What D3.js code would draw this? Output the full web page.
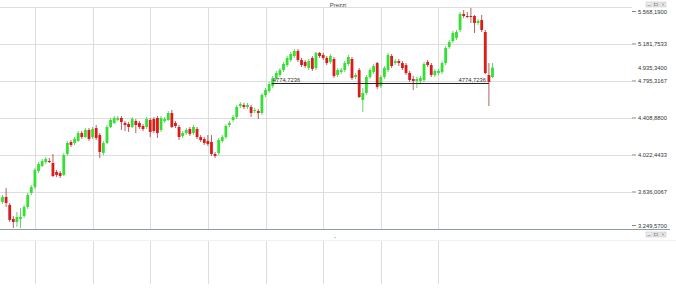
<!DOCTYPE html>
<html lang="it">
<head>
  <meta charset="UTF-8">
  <script src="https://d3js.org/d3.v7.min.js"></script>
  <style>
    body { margin: 0; background: #fff; }
    text { font-family: "Liberation Sans", Arial, sans-serif; }
  </style>
  <title>Prezzi</title>
</head>
<body>
  <svg id="chart" width="676" height="294"></svg>
  <script>
    // daily OHLC
    var open = [3532,3584,3500,3354,3323,3354,3386,3479,3626,3688,
      3855,3908,3949,3960,3939,3845,3835,3814,4033,4158,
      4148,4169,4252,4210,4284,4210,4304,4231,4043,4148,
      4315,4357,4388,4409,4357,4346,4315,4378,4357,4325,
      4315,4388,4398,4409,4284,4378,4388,4461,4357,4315,
      4221,4252,4294,4252,4294,4210,4190,4169,4158,4033,
      4043,4169,4210,4336,4388,4419,4534,4545,4524,4524,
      4482,4482,4461,4649,4691,4743,4827,4858,4910,4962,
      5015,5056,5109,5015,4994,4931,5036,4931,5088,5067,
      5036,4994,5025,4858,4889,4910,4973,5025,4837,4910,
      4597,4670,4837,4889,4983,4743,4837,4910,5056,4983,
      5004,4983,4962,4879,4816,4795,4795,4806,4994,4962,
      4858,4879,4889,4983,5150,5213,5245,5328,5495,5474,
      5474,5474,5401,5432,5307,4858,4837];
    var high = [3605,3678,3521,3386,3427,3469,3500,3626,3709,3887,
      3949,3981,4002,3991,4033,3866,3855,4043,4169,4179,
      4210,4273,4273,4304,4304,4315,4336,4252,4169,4336,
      4409,4430,4430,4430,4378,4367,4419,4398,4378,4346,
      4419,4409,4419,4430,4430,4419,4482,4492,4378,4336,
      4273,4304,4315,4336,4315,4231,4210,4231,4231,4054,
      4200,4231,4346,4378,4440,4545,4576,4566,4566,4545,
      4513,4503,4670,4722,4785,4848,4900,4931,4994,5056,
      5098,5130,5130,5036,5015,5025,5056,5098,5098,5088,
      5056,5077,5046,4931,4931,5004,5067,5046,4879,4931,
      4722,4858,4931,4973,4994,4858,4952,5088,5077,5025,
      5025,5004,4983,4900,4848,4837,4848,4994,5015,4983,
      4921,4921,5004,5161,5224,5318,5328,5516,5537,5516,
      5558,5485,5443,5485,5328,4983,4983];
    var low = [3511,3479,3323,3260,3271,3260,3365,3458,3605,3667,
      3835,3897,3928,3939,3793,3793,3782,3803,4012,4106,
      4127,4158,4190,4200,4169,4190,4179,3991,4022,4137,
      4304,4346,4378,4284,4273,4263,4304,4252,4294,4273,
      4294,4210,4252,4200,4263,4357,4378,4304,4304,4179,
      4200,4231,4221,4231,4190,4158,4127,4117,4012,3991,
      4022,4148,4190,4315,4367,4398,4513,4503,4503,4419,
      4461,4398,4440,4628,4670,4722,4806,4837,4889,4942,
      4994,5036,4994,4942,4931,4910,4900,4910,5036,5015,
      4962,4973,4827,4837,4868,4889,4952,4806,4816,4618,
      4472,4649,4816,4868,4712,4722,4816,4889,4931,4962,
      4952,4910,4858,4785,4701,4722,4774,4785,4942,4837,
      4837,4858,4868,4962,5130,5192,5224,5307,5453,5453,
      5401,5297,5380,5307,4868,4534,4827];
    var close = [3584,3521,3344,3323,3375,3375,3479,3605,3688,3866,
      3928,3960,3981,3949,3803,3814,3803,4022,4148,4127,
      4190,4252,4210,4284,4190,4294,4200,4054,4148,4315,
      4388,4409,4409,4367,4336,4315,4398,4336,4315,4294,
      4398,4263,4273,4252,4409,4398,4461,4315,4325,4210,
      4252,4284,4242,4315,4210,4179,4148,4137,4033,4012,
      4179,4210,4325,4357,4419,4524,4555,4524,4545,4461,
      4492,4461,4649,4701,4764,4827,4879,4910,4973,5036,
      5077,5109,5015,4962,4952,5004,4921,5088,5056,5036,
      4983,5056,4848,4910,4910,4983,5046,4827,4858,4628,
      4670,4837,4910,4952,4733,4837,4931,5067,4952,5004,
      4983,4931,4879,4806,4795,4816,4827,4973,4962,4858,
      4900,4900,4983,5140,5203,5297,5307,5495,5474,5464,
      5464,5401,5422,5328,4879,4785,4935.34];

    var yTicks = [3249.57, 3636.0067, 4022.4433, 4408.88, 4795.3167, 5181.7533, 5568.19];
    var gridIdx = [9, 25, 41, 57, 73, 89, 105, 121];   // sessions with a vertical gridline
    var lineLevel = 4774.7236, lineFrom = 75, lineTo = 135;

    var svg = d3.select('#chart');
    var n = close.length;
    var x = d3.scaleLinear().domain([0, n - 1]).range([2.5, 492.5]);
    var y = d3.scaleLinear().domain([yTicks[0], yTicks[yTicks.length - 1]]).range([229, 7]);

    var it = d3.formatLocale({decimal: ',', thousands: '.', grouping: [3], currency: ['', '']});
    var fmtAxis = it.format(',.4f');
    var fmtLine = it.format('.4f');

    // header
    svg.append('text').attr('x', 338).attr('y', 6.5).attr('text-anchor', 'middle')
      .attr('font-size', 6).attr('fill', '#444').text('Prezzi');

    function icons(y0) {
      var g = svg.append('g');
      [646, 653, 660].forEach(function(ix, k) {
        g.append('rect').attr('x', ix).attr('y', y0).attr('width', 6).attr('height', 5)
          .attr('fill', '#ececec').attr('stroke', '#c8c8c8').attr('stroke-width', 0.6);
        if (k == 0) g.append('line').attr('x1', ix + 1.5).attr('x2', ix + 4.5).attr('y1', y0 + 3.6).attr('y2', y0 + 3.6).attr('stroke', '#888').attr('stroke-width', 0.7);
        if (k == 1) g.append('rect').attr('x', ix + 1.5).attr('y', y0 + 1.3).attr('width', 3).attr('height', 2.4).attr('fill', 'none').attr('stroke', '#888').attr('stroke-width', 0.6);
        if (k == 2) g.append('path').attr('d', 'M' + (ix + 1.6) + ',' + (y0 + 1.2) + 'l2.8,2.6M' + (ix + 4.4) + ',' + (y0 + 1.2) + 'l-2.8,2.6').attr('stroke', '#888').attr('stroke-width', 0.6);
      });
    }
    icons(2);

    // grid
    svg.append('g').selectAll('line').data(yTicks.slice(1)).enter().append('line')
      .attr('x1', 0).attr('x2', 632)
      .attr('y1', d => Math.round(y(d)) + 0.5).attr('y2', d => Math.round(y(d)) + 0.5)
      .attr('stroke', '#dddddd');
    svg.append('g').selectAll('line').data(gridIdx).enter().append('line')
      .attr('x1', d => Math.round(x(d)) + 0.5).attr('x2', d => Math.round(x(d)) + 0.5)
      .attr('y1', 7).attr('y2', 229).attr('stroke', '#dddddd');

    // right axis
    var ax = svg.append('g');
    yTicks.forEach(function(v, k) {
      var ty = Math.min(Math.max(y(v), 11.5), 225.5);
      ax.append('line').attr('x1', 632).attr('x2', 636).attr('y1', ty).attr('y2', ty)
        .attr('stroke', '#555').attr('stroke-width', 0.7);
      ax.append('text').attr('x', 638).attr('y', ty).attr('dy', '0.35em')
        .attr('font-size', 5.8).attr('fill', '#333').text(fmtAxis(v));
    });
    var last = close[n - 1];
    ax.append('text').attr('x', 638).attr('y', y(last)).attr('dy', '0.35em')
      .attr('font-size', 5.8).attr('fill', '#333').text(fmtAxis(last));

    // candles
    var idx = d3.range(n);
    var cg = svg.append('g');
    cg.selectAll('line').data(idx).enter().append('line')
      .attr('x1', i => x(i)).attr('x2', i => x(i))
      .attr('y1', i => y(high[i])).attr('y2', i => y(low[i]))
      .attr('stroke', i => close[i] >= open[i] ? '#3fc83f' : '#a03a3a')
      .attr('stroke-width', 0.8);
    cg.selectAll('rect').data(idx).enter().append('rect')
      .attr('x', i => x(i) - 1.4).attr('width', 2.8)
      .attr('y', i => y(Math.max(open[i], close[i])))
      .attr('height', i => Math.max(1, Math.abs(y(open[i]) - y(close[i]))))
      .attr('fill', i => close[i] >= open[i] ? '#33e033' : '#dd1a1a');

    // horizontal level line
    var ly = Math.round(y(lineLevel)) + 0.5;
    svg.append('line').attr('x1', x(lineFrom) - 1).attr('x2', x(lineTo))
      .attr('y1', ly).attr('y2', ly).attr('stroke', '#222').attr('stroke-width', 1);
    svg.append('text').attr('x', x(lineFrom)).attr('y', ly - 1.5)
      .attr('font-size', 5.8).attr('fill', '#333').text(fmtLine(lineLevel));
    svg.append('text').attr('x', x(lineTo) - 3).attr('y', ly - 1.5).attr('text-anchor', 'end')
      .attr('font-size', 5.8).attr('fill', '#333').text(fmtLine(lineLevel));

    // separator + lower panel
    svg.append('line').attr('x1', 0).attr('x2', 670).attr('y1', 229.5).attr('y2', 229.5)
      .attr('stroke', '#8c9ca6').attr('stroke-width', 1);
    svg.append('line').attr('x1', 0).attr('x2', 676).attr('y1', 240.5).attr('y2', 240.5)
      .attr('stroke', '#f0f0f0');
    svg.append('text').attr('x', 335).attr('y', 238.5).attr('text-anchor', 'middle')
      .attr('font-size', 6).attr('fill', '#555').text('-');
    icons(232);
    svg.append('g').selectAll('line').data(gridIdx).enter().append('line')
      .attr('x1', d => Math.round(x(d)) + 0.5).attr('x2', d => Math.round(x(d)) + 0.5)
      .attr('y1', 241).attr('y2', 284).attr('stroke', '#dddddd');
  </script>
</body>
</html>
